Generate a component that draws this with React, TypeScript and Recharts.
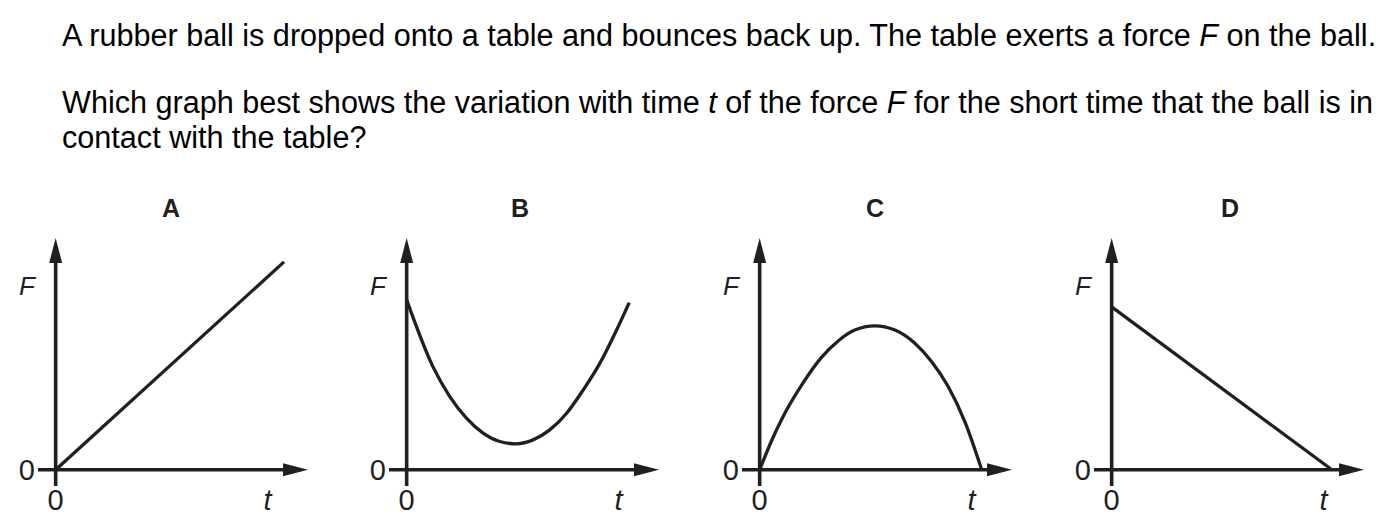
import React from "react";
import { LineChart, Line, XAxis, YAxis, ReferenceLine } from "recharts";

// time / force readings for each option graph (arbitrary units, 0..10)
const tA = [0, 9.05];
const fA = [0, 8.97];

const tB = [0, 1.04, 1.71, 2.37, 3.03, 3.69, 4.35, 5.01, 5.67, 6.34, 7.0, 7.66, 8.32, 8.82];
const fB = [7.33, 4.45, 3.16, 2.23, 1.58, 1.22, 1.12, 1.29, 1.72, 2.44, 3.45, 4.6, 6.03, 7.21];

const tC = [0, 0.45, 0.93, 1.72, 2.45, 3.11, 3.77, 4.56, 5.36, 6.15, 6.81, 7.47, 8.13, 8.8];
const fC = [0, 1.2, 2.3, 3.75, 4.85, 5.56, 6.03, 6.21, 6.03, 5.46, 4.67, 3.59, 2.08, 0];

const tD = [0, 8.73];
const fD = [7.03, 0];

const panelNames = ["A", "B", "C", "D"];
const xTicks = [0, 8.4];
const yTicks = [0, 7.93];

const INK = "#231f20";
const FONT = "'Liberation Sans', Arial, sans-serif";

const toRows = (t: number[], f: number[]) => t.map((v, i) => ({ t: v, F: f[i] }));

const panels = [
  { name: panelNames[0], left: 0, data: toRows(tA, fA), curve: "linear" },
  { name: panelNames[1], left: 351, data: toRows(tB, fB), curve: "monotone" },
  { name: panelNames[2], left: 704, data: toRows(tC, fC), curve: "monotone" },
  { name: panelNames[3], left: 1056, data: toRows(tD, fD), curve: "linear" },
];

// axis line ending in a filled arrow head
const arrowShape = (p: any) => {
  const { x1, y1, x2, y2 } = p;
  const dx = x2 - x1;
  const dy = y2 - y1;
  const len = Math.hypot(dx, dy) || 1;
  const ux = dx / len;
  const uy = dy / len;
  const head = 25;
  const half = 6.5;
  const bx = x2 - ux * head;
  const by = y2 - uy * head;
  return (
    <g>
      <line x1={x1} y1={y1} x2={bx + ux * 3} y2={by + uy * 3} stroke={INK} strokeWidth={3.6} />
      <polygon
        points={`${x2},${y2} ${bx - uy * half},${by + ux * half} ${bx + uy * half},${by - ux * half}`}
        fill={INK}
      />
    </g>
  );
};

const XTick = (props: any) => {
  const { x, y, payload } = props;
  const isZero = payload.value === 0;
  return (
    <text
      x={x}
      y={y}
      dy="0.71em"
      textAnchor="middle"
      fill={INK}
      fontSize={29}
      fontFamily={FONT}
      fontStyle={isZero ? "normal" : "italic"}
    >
      {isZero ? "0" : "t"}
    </text>
  );
};

const YTick = (props: any) => {
  const { x, y, payload } = props;
  const isZero = payload.value === 0;
  return (
    <text
      x={x}
      y={y}
      dy="0.355em"
      textAnchor="end"
      fill={INK}
      fontSize={isZero ? 29 : 26}
      fontFamily={FONT}
      fontStyle={isZero ? "normal" : "italic"}
    >
      {isZero ? "0" : "F"}
    </text>
  );
};

const Panel = ({ p }: { p: (typeof panels)[number] }) => (
  <div style={{ position: "absolute", left: p.left, top: 236 }}>
    <LineChart width={312} height={284} data={p.data} margin={{ top: 2, right: 4, left: 0, bottom: 0 }}>
      <XAxis
        dataKey="t"
        type="number"
        domain={[-0.7, 10]}
        ticks={xTicks}
        axisLine={false}
        tickLine={false}
        tickSize={0}
        tickMargin={3}
        height={34}
        tick={<XTick />}
      />
      <YAxis
        dataKey="F"
        type="number"
        domain={[-0.7, 10]}
        ticks={yTicks}
        axisLine={false}
        tickLine={false}
        tickSize={0}
        tickMargin={3}
        width={38}
        tick={<YTick />}
      />
      <ReferenceLine
        segment={[{ x: -0.7, y: 0 }, { x: 10, y: 0 }]}
        ifOverflow="visible"
        shape={arrowShape}
      />
      <ReferenceLine
        segment={[{ x: 0, y: -0.7 }, { x: 0, y: 10 }]}
        ifOverflow="visible"
        shape={arrowShape}
      />
      <Line
        dataKey="F"
        type={p.curve as any}
        stroke={INK}
        strokeWidth={3.3}
        dot={false}
        isAnimationActive={false}
      />
    </LineChart>
  </div>
);

const titleX = [171, 520, 875, 1230];

export default function App() {
  const textStyle: React.CSSProperties = {
    position: "absolute",
    left: 62,
    fontFamily: FONT,
    fontSize: 30.6,
    lineHeight: "35px",
    color: "#000",
    whiteSpace: "nowrap",
  };
  return (
    <div
      style={{
        position: "absolute",
        left: 0,
        top: 0,
        width: 1397,
        height: 527,
        background: "#fff",
        overflow: "hidden",
      }}
    >
      <div style={{ ...textStyle, top: 18 }}>
        A rubber ball is dropped onto a table and bounces back up. The table exerts a force <i>F</i> on
        the ball.
      </div>
      <div style={{ ...textStyle, top: 85 }}>
        Which graph best shows the variation with time <i>t</i> of the force <i>F</i> for the short time
        that the ball is in
      </div>
      <div style={{ ...textStyle, top: 120 }}>contact with the table?</div>

      {panels.map((p, i) => (
        <div
          key={p.name}
          style={{
            position: "absolute",
            left: titleX[i] - 30,
            width: 60,
            top: 193,
            textAlign: "center",
            fontFamily: FONT,
            fontWeight: "bold",
            fontSize: 25,
            lineHeight: "30px",
            color: INK,
          }}
        >
          {p.name}
        </div>
      ))}

      {panels.map((p) => (
        <Panel key={p.name} p={p} />
      ))}
    </div>
  );
}
